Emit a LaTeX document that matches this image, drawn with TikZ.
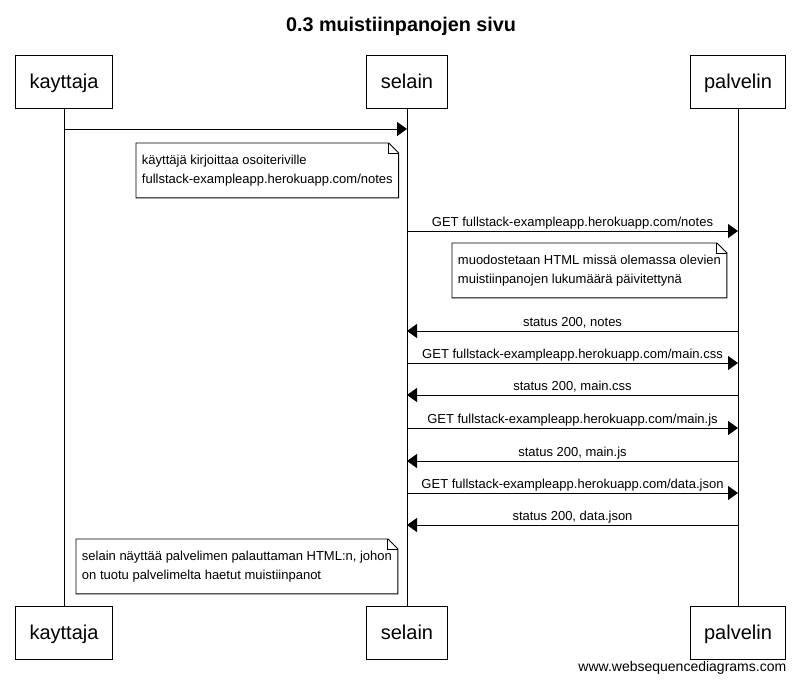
\documentclass[tikz,border=0pt]{standalone}
\usepackage{fontspec}
\setmainfont{Liberation Sans}
\usetikzlibrary{arrows.meta}

\begin{document}
\begin{tikzpicture}[x=1pt,y=-1pt,line width=0.9pt,
	actor/.style={draw,shape=rectangle,inner xsep=14pt,minimum height=53pt,text height=14pt,text depth=0pt,font=\fontsize{20}{24}\selectfont},
	msg/.style={-{Triangle[length=10pt,width=14pt]}},
	lbl/.style={anchor=base,yshift=4.5pt,inner sep=0pt,font=\fontsize{13}{15}\selectfont},
	note/.style={anchor=north west,align=left,inner xsep=5.5pt,minimum height=54pt,font=\fontsize{13}{19.5}\selectfont}]
		\useasboundingbox (0,0) rectangle (799,684);
		\fill[white] (0,0) rectangle (799,684);
		%%%
		\node[anchor=base,font=\bfseries\fontsize{19.8}{24}\selectfont] (title) at (401,31.5) {0.3 muistiinpanojen sivu};
		\node[actor] (kayttaja) at (64,81.5) {kayttaja};
		\node[actor] (selain) at (407,81.5) {selain};
		\node[actor] (palvelin) at (738,81.5) {palvelin};
		\node[actor] (kayttajaB) at (64,632.5) {kayttaja};
		\node[actor] (selainB) at (407,632.5) {selain};
		\node[actor] (palvelinB) at (738,632.5) {palvelin};
		\node[anchor=base east,font=\fontsize{14}{16}\selectfont] (footer) at (790,671) {www.websequencediagrams.com};
		%%%
		\draw (kayttaja) -- (kayttajaB);
		\draw (selain) -- (selainB);
		\draw (palvelin) -- (palvelinB);
		%%%
		\node[note] (noteA) at (136,143) {käyttäjä kirjoittaa osoiteriville\\fullstack-exampleapp.herokuapp.com/notes};
		\node[note] (noteB) at (452,243) {muodostetaan HTML missä olemassa olevien\\muistiinpanojen lukumäärä päivitettynä};
		\node[note] (noteC) at (76,539) {selain näyttää palvelimen palauttaman HTML:n, johon\\on tuotu palvelimelta haetut muistiinpanot};
		\foreach \n in {noteA,noteB,noteC} {
			\draw (\n.north west) -- ([xshift=-10pt]\n.north east) -- ([yshift=-10pt]\n.north east) -- (\n.south east) -- (\n.south west) -- cycle;
			\draw ([xshift=-10pt]\n.north east) |- ([yshift=-10pt]\n.north east);
		}
		%%%
		\draw[msg] (kayttaja |- 0,129) -- (selain |- 0,129);
		\draw[msg] (selain |- 0,231) -- node[lbl] {GET fullstack-exampleapp.herokuapp.com/notes} (palvelin |- 0,231);
		\draw[msg] (palvelin |- 0,331) -- node[lbl] {status 200, notes} (selain |- 0,331);
		\draw[msg] (selain |- 0,363) -- node[lbl] {GET fullstack-exampleapp.herokuapp.com/main.css} (palvelin |- 0,363);
		\draw[msg] (palvelin |- 0,395) -- node[lbl] {status 200, main.css} (selain |- 0,395);
		\draw[msg] (selain |- 0,428) -- node[lbl] {GET fullstack-exampleapp.herokuapp.com/main.js} (palvelin |- 0,428);
		\draw[msg] (palvelin |- 0,461) -- node[lbl] {status 200, main.js} (selain |- 0,461);
		\draw[msg] (selain |- 0,493) -- node[lbl] {GET fullstack-exampleapp.herokuapp.com/data.json} (palvelin |- 0,493);
		\draw[msg] (palvelin |- 0,525) -- node[lbl] {status 200, data.json} (selain |- 0,525);
	\end{tikzpicture}
\end{document}
